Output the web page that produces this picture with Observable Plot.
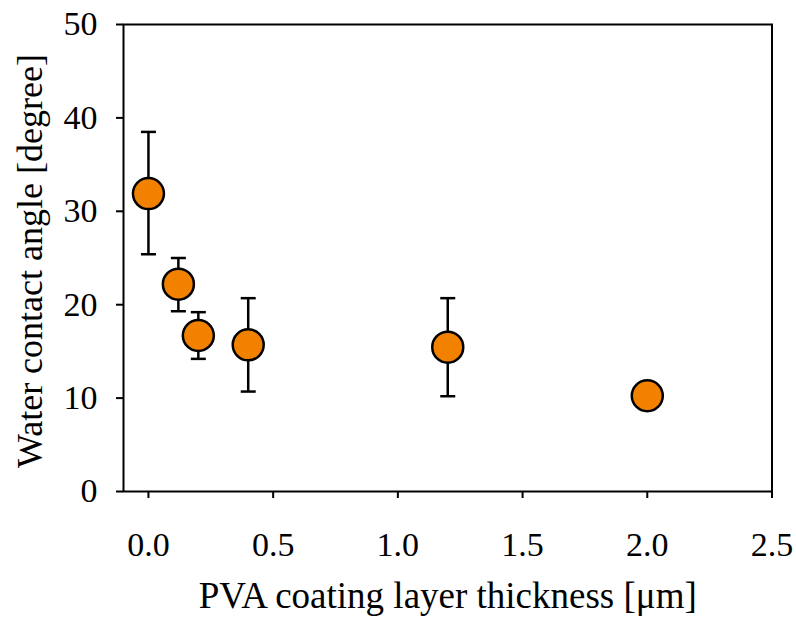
<!DOCTYPE html>
<html>
<head>
<meta charset="utf-8">
<script src="https://cdn.jsdelivr.net/npm/d3@7"></script>
<script src="https://cdn.jsdelivr.net/npm/@observablehq/plot@0.6"></script>
<style>
  html, body { margin: 0; padding: 0; background: #fff; }
</style>
</head>
<body>
<div id="chart"></div>
<script>
const thickness = [0, 0.12, 0.2, 0.4, 1.2, 2.0];
const angle = [31.9, 22.2, 16.7, 15.7, 15.45, 10.25];
const errLow = [25.4, 19.3, 14.2, 10.7, 10.2, 9.7];
const errHigh = [38.5, 25.0, 19.2, 20.7, 20.7, 10.8];
const xTicks = [0, 0.5, 1.0, 1.5, 2.0, 2.5];
const yTicks = [0, 10, 20, 30, 40, 50];
const xTitle = "PVA coating layer thickness [μm]";
const yTitle = "Water contact angle [degree]";

const data = thickness.map((t, i) => ({x: t, y: angle[i], lo: errLow[i], hi: errHigh[i]}));

const capSymbol = {
  draw(context, size) {
    const w = Math.sqrt(size / Math.PI);
    context.moveTo(-w, 0);
    context.lineTo(w, 0);
  }
};

const font = "'Liberation Serif', 'Times New Roman', serif";

const chart = Plot.plot({
  width: 796,
  height: 618,
  marginLeft: 123,
  marginRight: 24.5,
  marginTop: 24,
  marginBottom: 127,
  style: {fontFamily: font, background: "white", color: "black"},
  x: {domain: [-0.1, 2.5]},
  y: {domain: [0, 50]},
  marks: [
    Plot.axisX({ticks: xTicks, tickFormat: d3.format(".1f"), tickSize: 7, tickPadding: 33, fontSize: 34, strokeWidth: 2, label: null}),
    Plot.axisY({ticks: yTicks, tickSize: 7, tickPadding: 19, fontSize: 34, strokeWidth: 2, label: null}),
    Plot.frame({stroke: "black", strokeWidth: 2}),
    Plot.ruleX(data, {x: "x", y1: "lo", y2: "hi", stroke: "black", strokeWidth: 2.5}),
    Plot.dot(data, {x: "x", y: "lo", symbol: capSymbol, r: 7.5, stroke: "black", strokeWidth: 2.5, fill: "none"}),
    Plot.dot(data, {x: "x", y: "hi", symbol: capSymbol, r: 7.5, stroke: "black", strokeWidth: 2.5, fill: "none"}),
    Plot.dot(data, {x: "x", y: "y", r: 15.5, fill: "#f28100", stroke: "black", strokeWidth: 2.5}),
    Plot.text([xTitle], {frameAnchor: "bottom", dy: 116, textAnchor: "middle", fontSize: 37, fill: "black"}),
    Plot.text([yTitle], {frameAnchor: "left", dx: -93, dy: 3, rotate: -90, textAnchor: "middle", fontSize: 36, fill: "black"})
  ]
});
document.getElementById("chart").appendChild(chart);
</script>
</body>
</html>
